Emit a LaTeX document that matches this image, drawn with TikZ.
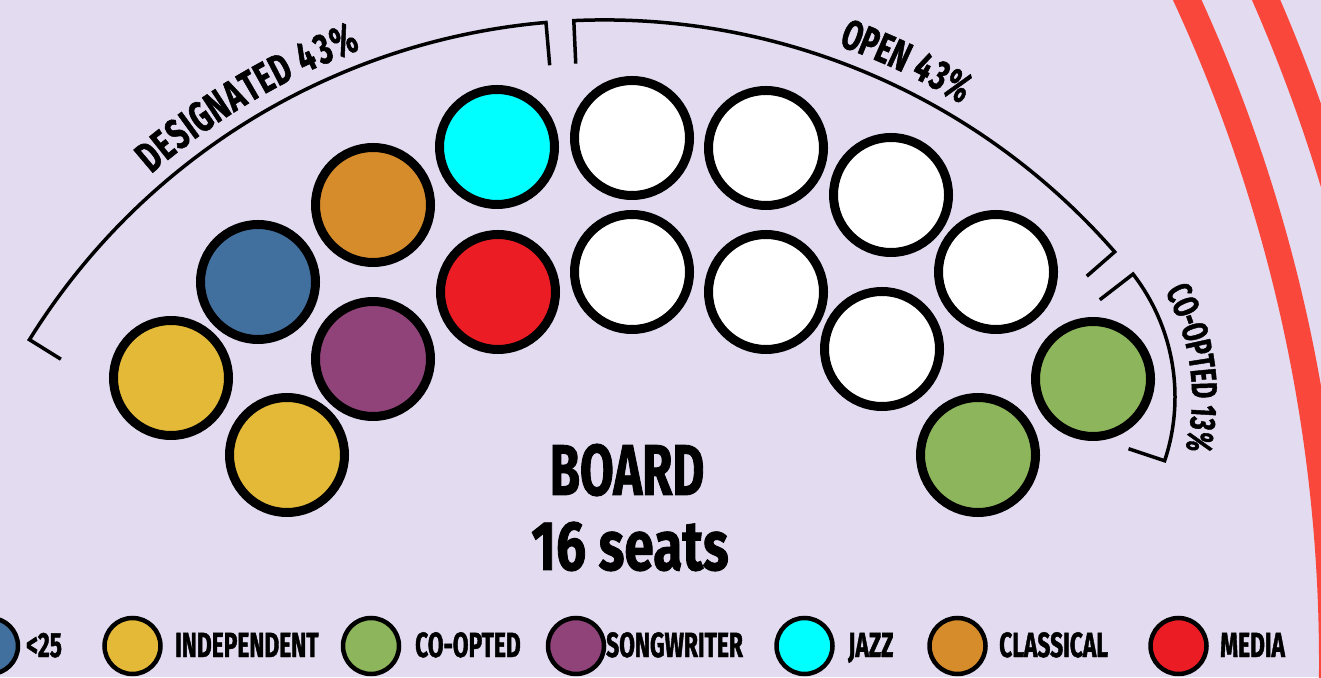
\documentclass[tikz,border=0pt]{standalone}
\usepackage{fontspec}
\setmainfont{Fira Sans}
\newfontfamily\condfont{Fira Sans}[FakeStretch=0.68,FakeBold=1.2]
\newfontfamily\seatsfont{Fira Sans}[FakeStretch=0.76,FakeBold=1.2]
\newfontfamily\keyfont{Fira Sans}[FakeStretch=0.65,FakeBold=1.2]
\usepackage{tikz}
\usetikzlibrary{calc}
\definecolor{BoardBg}{HTML}{E3DCF1}
\definecolor{SeatYellow}{HTML}{E3B937}
\definecolor{SeatBlue}{HTML}{41709F}
\definecolor{SeatOrange}{HTML}{D68C2A}
\definecolor{SeatCyan}{HTML}{00FFFF}
\definecolor{SeatRed}{HTML}{EC1C24}
\definecolor{SeatPurple}{HTML}{8F4379}
\definecolor{SeatGreen}{HTML}{8DB55B}
\definecolor{StripeRed}{HTML}{FA473B}
\newcommand\curvetext[5]{%
  \gdef\arcsum{0}%
  \foreach \c/\w in {#5}{\pgfmathsetmacro\tmp{\arcsum+\w*#4/42}\xdef\arcsum{\tmp}}%
  \pgfmathsetmacro\tmp{#3+\arcsum/#2*90/pi}\xdef\arcang{\tmp}%
  \foreach \c/\w in {#5}{%
    \pgfmathsetmacro\midang{\arcang-\w*#4/84/#2*180/pi}%
    \node[font=\condfont\bfseries\fontsize{#4}{#4}\selectfont,anchor=base,
      inner sep=0pt,rotate=\midang-90] at ($(#1)+(\midang:#2pt)$) {\c};
    \pgfmathsetmacro\tmp{\arcang-\w*#4/42/#2*180/pi}\xdef\arcang{\tmp}}%
}

\begin{document}
\begin{tikzpicture}[x=1pt,y=1pt,
 seat/.style={circle,draw=black,line width=9pt,minimum size=115pt,inner sep=0pt},
 keydot/.style={circle,draw=black,line width=4.5pt,minimum size=56pt,inner sep=0pt},
 bracket/.style={line width=3.5pt,line join=miter},
 stripe/.style={draw=StripeRed,line width=26pt},
 boardtxt/.style={font=\condfont\bfseries\fontsize{72pt}{72pt}\selectfont,anchor=base,inner sep=0pt},
 seatstxt/.style={font=\seatsfont\bfseries\fontsize{70pt}{70pt}\selectfont,anchor=base,inner sep=0pt},
 keytxt/.style={font=\keyfont\bfseries\fontsize{35pt}{35pt}\selectfont,anchor=base west,inner sep=0pt}]
\useasboundingbox (0,0) rectangle (1321,677);
\clip (0,0) rectangle (1321,677);
\fill[BoardBg] (0,0) rectangle (1321,677);
\coordinate (stripehub) at (-254,15);
\coordinate (hub) at (604.5,-19.9);
\coordinate (cohub) at (974,280);
\draw[stripe] ($(stripehub)+(28:1586pt)$) arc[start angle=28,end angle=-2,radius=1586pt];
\draw[stripe] ($(stripehub)+(28:1658pt)$) arc[start angle=28,end angle=-2,radius=1658pt];
\node[seat,fill=SeatYellow] (ind1) at (171,299) {};
\node[seat,fill=SeatYellow] (ind2) at (287,222) {};
\node[seat,fill=SeatBlue] (young) at (258,395) {};
\node[seat,fill=SeatPurple] (song) at (373,318) {};
\node[seat,fill=SeatOrange] (classical) at (373,472) {};
\node[seat,fill=SeatCyan] (jazz) at (497,530) {};
\node[seat,fill=SeatRed] (media) at (498,385) {};
\node[seat,fill=white] (open1) at (632,539) {};
\node[seat,fill=white] (open2) at (766,529) {};
\node[seat,fill=white] (open3) at (891,482) {};
\node[seat,fill=white] (open4) at (996,405) {};
\node[seat,fill=white] (open5) at (632,405) {};
\node[seat,fill=white] (open6) at (766,385) {};
\node[seat,fill=white] (open7) at (882,328) {};
\node[seat,fill=SeatGreen] (coopt1) at (1093,298) {};
\node[seat,fill=SeatGreen] (coopt2) at (978,222) {};
\draw[bracket] ($(hub)+(148.15:640pt)$) -- ($(hub)+(148.15:677pt)$)
  arc[start angle=148.15,end angle=94.96,radius=677pt] -- ($(hub)+(94.96:634pt)$);
\draw[bracket] ($(hub)+(92.6:634pt)$) -- ($(hub)+(92.6:677pt)$)
  arc[start angle=92.6,end angle=41.1,radius=677pt] -- ($(hub)+(41.1:640pt)$);
\draw[bracket] ($(cohub)+(37.7:159pt)$) -- ($(cohub)+(37.7:201pt)$)
  arc[start angle=37.7,end angle=-18.5,radius=201pt] -- ($(cohub)+(-18.5:163pt)$);
\curvetext{hub}{692}{120.8}{43}{D/19,E/16,S/18,I/9,G/19,N/19,A/19,T/16,E/16,D/19,~/8,4/19,3/18,\%/24}
\curvetext{hub}{692}{64.6}{42}{O/18.5,P/17,E/15,N/18.5,~/7.5,4/18.5,3/17,\%/23}
\curvetext{cohub}{218}{7.6}{36}{C/17,O/18.5,-/11,O/18.5,P/17,T/15,E/15,D/18.5,~/7.5,1/12,3/17,\%/23}
\node[boardtxt] (board) at (627,182) {BOARD};
\node[seatstxt] (seats) at (630,107) {16 seats};
\foreach \col/\cx/\tx/\lab [count=\i] in {SeatBlue/-10/26/{<25},
  SeatYellow/132.5/175/INDEPENDENT,SeatGreen/371/415/CO-OPTED,
  SeatPurple/576/606/SONGWRITER,SeatCyan/804.5/848/JAZZ,
  SeatOrange/957.5/999/CLASSICAL,SeatRed/1178.5/1220/MEDIA}{
  \node[keydot,fill=\col] (key\i) at (\cx,31) {};
  \node[keytxt] (lab\i) at (\tx,20) {\lab};
}
\end{tikzpicture}
\end{document}
